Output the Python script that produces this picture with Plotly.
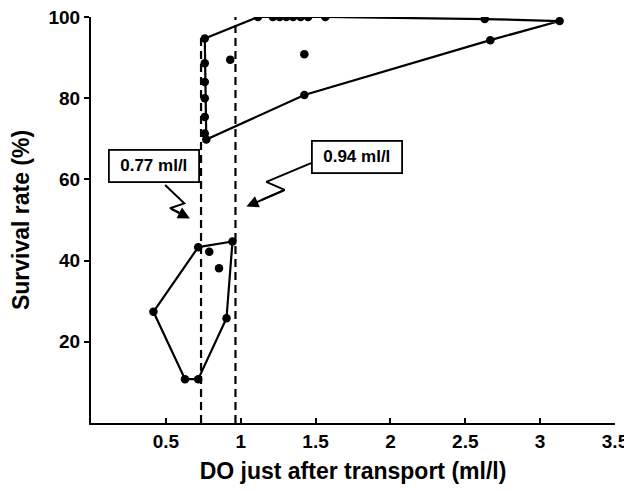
import plotly.graph_objects as go

# ---- data ----
upper_x = [0.76, 0.76, 0.76, 0.76, 0.76, 0.76, 0.77, 0.93, 1.115, 1.215, 1.26, 1.305,
           1.35, 1.40, 1.45, 1.565, 1.425, 1.425, 2.63, 3.13, 2.667]
upper_y = [94.7, 88.6, 84.0, 80.0, 75.4, 71.3, 69.8, 89.5, 100, 100, 100, 100,
           100, 100, 100, 100, 90.8, 80.8, 99.5, 99.0, 94.3]
lower_x = [0.716, 0.945, 0.79, 0.855, 0.417, 0.905, 0.628, 0.716]
lower_y = [43.3, 44.7, 42.2, 38.1, 27.4, 25.8, 10.8, 10.8]

upper_hull_x = [0.76, 1.115, 1.565, 2.63, 3.13, 2.667, 1.425, 0.77, 0.76]
upper_hull_y = [94.7, 100, 100, 99.5, 99.0, 94.3, 80.8, 69.8, 94.7]
lower_hull_x = [0.716, 0.945, 0.905, 0.716, 0.628, 0.417, 0.716]
lower_hull_y = [43.3, 44.7, 25.8, 10.8, 10.8, 27.4, 43.3]

thresholds = [0.735, 0.965]
threshold_tops = [95, 100]
threshold_labels = ["0.77 ml/l", "0.94 ml/l"]

x_ticks = [0.5, 1, 1.5, 2, 2.5, 3, 3.5]
x_ticklabels = ["0.5", "1", "1.5", "2", "2.5", "3", "3.5"]
y_ticks = [20, 40, 60, 80, 100]

# ---- figure ----
FONT = "Liberation Sans"
fig = go.Figure()

# threshold dashed lines
for xv, top in zip(thresholds, threshold_tops):
    fig.add_trace(go.Scatter(x=[xv, xv], y=[0, top], mode="lines",
                             line=dict(color="black", width=2.2, dash="8px,5px"),
                             hoverinfo="skip", showlegend=False))

# hulls
for hx, hy in [(upper_hull_x, upper_hull_y), (lower_hull_x, lower_hull_y)]:
    fig.add_trace(go.Scatter(x=hx, y=hy, mode="lines",
                             line=dict(color="black", width=2.2),
                             hoverinfo="skip", showlegend=False))

# points
fig.add_trace(go.Scatter(x=upper_x + lower_x, y=upper_y + lower_y, mode="markers",
                         marker=dict(color="black", size=8.5),
                         showlegend=False))

# callouts: zigzag leader lines
zig1_x = [0.495, 0.623, 0.528, 0.661]
zig1_y = [58.6, 54.1, 52.9, 50.4]
zig2_x = [1.47, 1.171, 1.293, 1.038]
zig2_y = [64.0, 59.4, 57.4, 53.3]
for zx, zy in [(zig1_x, zig1_y), (zig2_x, zig2_y)]:
    fig.add_trace(go.Scatter(x=zx[:-1] + [zx[-2] + 0.6 * (zx[-1] - zx[-2])],
                             y=zy[:-1] + [zy[-2] + 0.6 * (zy[-1] - zy[-2])],
                             mode="lines", line=dict(color="black", width=2),
                             hoverinfo="skip", showlegend=False))
    fig.add_annotation(x=zx[-1], y=zy[-1], ax=zx[-2], ay=zy[-2],
                       xref="x", yref="y", axref="x", ayref="y",
                       text="", showarrow=True, arrowhead=2, arrowsize=1.2,
                       arrowwidth=2, arrowcolor="black")

box_pos = [(0.4215, 63.2), (1.775, 65.4)]
for (bx, by), label in zip(box_pos, threshold_labels):
    fig.add_annotation(x=bx, y=by, xref="x", yref="y", text="<b>%s</b>" % label,
                       showarrow=False, font=dict(family=FONT, size=17, color="black"),
                       bordercolor="black", borderwidth=1.8, borderpad=0,
                       bgcolor="white", width=88, height=30)

# origin label
fig.add_annotation(x=-0.125, y=-3.5, xref="x", yref="y", text="<b>0</b>",
                   showarrow=False, font=dict(family=FONT, size=19, color="black"))

# the page body adds an 8px margin, so the figure is sized/offset to compensate
fig.update_layout(
    width=624, height=483,
    margin=dict(l=83, r=17, t=9, b=68),
    paper_bgcolor="white", plot_bgcolor="white",
    font=dict(family=FONT, color="black"),
    xaxis=dict(range=[0, 3.5], tickvals=x_ticks, ticktext=["<b>%s</b>" % t for t in x_ticklabels],
               ticks="inside", ticklen=5, tickwidth=1.5, tickcolor="black", automargin=False,
               ticklabeloverflow="allow",
               showline=True, linecolor="black", linewidth=2.2, showgrid=False, zeroline=False,
               tickfont=dict(family=FONT, size=19, color="black"),
               title=dict(text="<b>DO just after transport (ml/l)</b>",
                          font=dict(family=FONT, size=23, color="black"), standoff=12)),
    yaxis=dict(range=[0, 100], tickvals=y_ticks, ticktext=["<b>%d</b>" % t for t in y_ticks],
               ticks="outside", ticklen=5, tickwidth=1.5, tickcolor="black", automargin=False,
               ticklabeloverflow="allow",
               showline=True, linecolor="black", linewidth=2.2, showgrid=False, zeroline=False,
               tickfont=dict(family=FONT, size=19, color="black"),
               title=dict(text="<b>Survival rate (%)</b>",
                          font=dict(family=FONT, size=23, color="black"), standoff=18)),
)

fig.write_html("out.html")
